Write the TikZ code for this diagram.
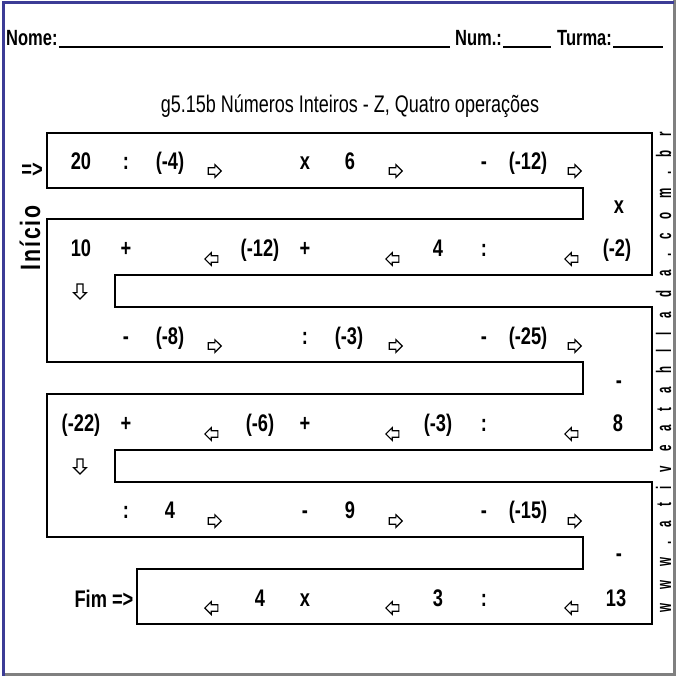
\documentclass[tikz,border=0pt]{standalone}
\usepackage{fontspec}
\usetikzlibrary{shapes.arrows}
\setmainfont{Liberation Sans}
\newfontfamily\nb{Liberation Sans}[FakeStretch=0.76]
\newfontfamily\hb{Liberation Sans}[FakeStretch=0.75]
\newfontfamily\wb{Liberation Sans}[FakeStretch=0.55]
\definecolor{bordblue}{HTML}{3C3C96}
\definecolor{bordgray}{HTML}{808080}
\begin{document}
\begin{tikzpicture}[x=1pt,y=-1pt,
  num/.style={anchor=base,inner sep=0pt,font=\nb\bfseries\fontsize{24}{24}\selectfont},
  arrbase/.style={single arrow,draw,fill=white,line width=1.2pt,inner sep=2.7pt,
    single arrow head extend=3pt,single arrow head indent=0pt,
    minimum height=13pt,minimum width=0pt},
  rarr/.style={arrbase},
  larr/.style={arrbase,shape border rotate=180},
  darr/.style={arrbase,shape border rotate=270,minimum height=15pt,inner sep=2.4pt,
    single arrow head extend=3.4pt},
  head/.style={anchor=base west,inner sep=0pt,font=\hb\bfseries\fontsize{22}{22}\selectfont},
  wall/.style={line width=1.4pt,line join=miter}]
\useasboundingbox (0,0) rectangle (676,676);
\fill[white] (0,0) rectangle (676,676);
% frame
\draw[bordgray,line width=3pt] (674,0) -- (674,674.5) -- (2,674.5);
\draw[bordblue,line width=3pt] (3,676) -- (3,2.5) -- (674,2.5);
% header
\node[head] (nome) at (6,46) {Nome:};
\node[head] (num) at (455,46) {Num.:};
\node[head] (turma) at (557,46) {Turma:};
\draw[line width=1.6pt] (nome.base east) ++(1,1) coordinate (u1) -- (450,47) coordinate (u2);
\draw[line width=1.6pt] (num.base east) ++(1,1) coordinate (u3) -- (551,47) coordinate (u4);
\draw[line width=1.6pt] (turma.base east) ++(1,1) coordinate (u5) -- (663,47) coordinate (u6);
\node[anchor=base,inner sep=0pt,font=\hb\fontsize{24}{24}\selectfont] (title) at (350,113) {g5.15b Números Inteiros - Z, Quatro operações};
% serpentine
\draw[wall] (47,133) -- (652,133) -- (652,275) -- (115,275) -- (115,307) -- (652,307)
  -- (652,450) -- (115,450) -- (115,482) -- (652,482) -- (652,624) -- (137,624)
  -- (137,569) -- (583,569) -- (583,537) -- (47,537) -- (47,394) -- (583,394)
  -- (583,362) -- (47,362) -- (47,219) -- (583,219) -- (583,188) -- (47,188) -- cycle;
% side labels
\node[rotate=90,inner sep=0pt,font=\nb\bfseries\fontsize{28}{28}\selectfont] (inicio) at (30,238) {I\kern2ptn\kern2ptí\kern2ptc\kern2pti\kern2pto};
\node[anchor=base,inner sep=0pt,font=\nb\bfseries\fontsize{24}{24}\selectfont] (start) at (32,178) {=>};
\node[anchor=base,inner sep=0pt,font=\nb\bfseries\fontsize{24}{24}\selectfont] (fim) at (104,607) {Fim =>};
\node[rotate=90,anchor=base,inner sep=0pt,text depth=0pt,font=\wb\bfseries\fontsize{21}{21}\selectfont\addfontfeature{LetterSpace=66}] (site) at (671,372) {www.ativeatahllada.com.br};
% row 1
\foreach \x/\t [count=\i] in {81/20,126/:,170/(-4),305/x,350/6,484/-,528/(-12)}
  \node[num] (a\i) at (\x,170) {\t};
\foreach \x [count=\i] in {213,394,573}
  \node[rarr] (ar\i) at (\x,171) {};
\node[num] (t1) at (619,214) {x};
% row 2
\foreach \x/\t [count=\i] in {81/10,126/+,260/(-12),305/+,438/4,484/:,617/(-2)}
  \node[num] (b\i) at (\x,256) {\t};
\foreach \x [count=\i] in {213,394,573}
  \node[larr] (br\i) at (\x,259) {};
\node[darr] (d1) at (80,290) {};
% row 3
\foreach \x/\t [count=\i] in {126/-,170/(-8),305/:,349/(-3),484/-,528/(-25)}
  \node[num] (c\i) at (\x,344) {\t};
\foreach \x [count=\i] in {213,394,573}
  \node[rarr] (cr\i) at (\x,346) {};
\node[num] (t2) at (619,388) {-};
% row 4
\foreach \x/\t [count=\i] in {81/(-22),126/+,260/(-6),305/+,438/(-3),484/:,618/8}
  \node[num] (e\i) at (\x,431) {\t};
\foreach \x [count=\i] in {213,394,573}
  \node[larr] (er\i) at (\x,434) {};
\node[darr] (d2) at (80,465) {};
% row 5
\foreach \x/\t [count=\i] in {126/:,170/4,305/-,350/9,484/-,528/(-15)}
  \node[num] (f\i) at (\x,518) {\t};
\foreach \x [count=\i] in {213,394,573}
  \node[rarr] (fr\i) at (\x,521) {};
\node[num] (t3) at (619,561) {-};
% row 6
\foreach \x/\t [count=\i] in {260/4,305/x,438/3,484/:,616/13}
  \node[num] (g\i) at (\x,606) {\t};
\foreach \x [count=\i] in {213,394,573}
  \node[larr] (gr\i) at (\x,608) {};
\end{tikzpicture}
\end{document}
